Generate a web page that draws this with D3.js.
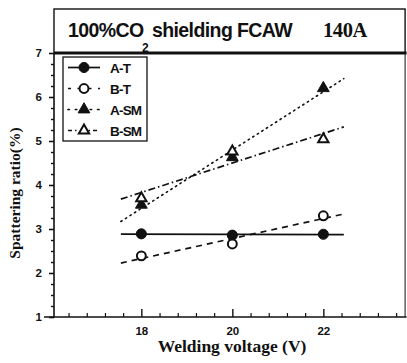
<!DOCTYPE html>
<html>
<head>
<meta charset="utf-8">
<script src="https://cdn.jsdelivr.net/npm/d3@7"></script>
<style>
  html, body { margin: 0; padding: 0; background: #fff; }
  svg { display: block; }
</style>
</head>
<body>
<svg id="chart" width="407" height="363"></svg>
<script>
// Welding voltage (V) on x, spattering ratio (%) on y
const voltages = [18, 20, 22];
const seriesNames = ["A-T", "B-T", "A-SM", "B-SM"];
const valuesAT = [2.89, 2.86, 2.88];
const valuesBT = [2.39, 2.66, 3.30];
const valuesASM = [3.55, 4.63, 6.20];
const valuesBSM = [3.70, 4.76, 5.04];
const xTickValues = [18, 20, 22];
const yTickValues = [1, 2, 3, 4, 5, 6, 7];
const titleMain = "100%CO";
const titleSub = "2";
const titleRest = "shielding FCAW";
const titleCurrent = "140A";

const svg = d3.select("#chart");
const ink = "#111";
const sans = "'Liberation Sans', Arial, sans-serif";
const serif = "'Liberation Serif', 'Times New Roman', serif";

const x = d3.scaleLinear().domain([16.08, 23.83]).range([54, 406.6]);
const y = d3.scaleLinear().domain([1, 7]).range([317, 53]);
const [x0, x1] = x.range();
const [yb, yt] = y.range();

// title box above the plot
svg.append("rect")
  .attr("x", x0).attr("y", 9).attr("width", x1 - x0 - 1.5).attr("height", yt - 9)
  .attr("fill", "none").attr("stroke", ink).attr("stroke-width", 1.4);

svg.append("text")
  .attr("x", 68).attr("y", 37)
  .attr("font-family", sans).attr("font-weight", "bold").attr("font-size", 19.5)
  .attr("letter-spacing", -0.6).attr("fill", ink)
  .text(titleMain);
svg.append("text")
  .attr("x", 142).attr("y", 52)
  .attr("font-family", sans).attr("font-weight", "bold").attr("font-size", 12)
  .attr("fill", ink)
  .text(titleSub);
svg.append("text")
  .attr("x", 152).attr("y", 37)
  .attr("font-family", sans).attr("font-weight", "bold").attr("font-size", 19.5)
  .attr("letter-spacing", -0.6).attr("fill", ink)
  .text(titleRest);

svg.append("text")
  .attr("x", 323).attr("y", 37)
  .attr("font-family", serif).attr("font-weight", "bold").attr("font-size", 20.5)
  .attr("letter-spacing", -0.4)
  .attr("fill", ink).text(titleCurrent);

// plot frame
svg.append("line").attr("x1", x0).attr("x2", x1).attr("y1", yt).attr("y2", yt)
  .attr("stroke", ink).attr("stroke-width", 3);
svg.append("line").attr("x1", x1 - 1.5).attr("x2", x1 - 1.5).attr("y1", yt).attr("y2", yb)
  .attr("stroke", ink).attr("stroke-width", 1);

// axes
const minorY = d3.range(1, 7.001, 0.25).filter(v => Math.abs(v - Math.round(v)) > 1e-6);
const minorX = d3.range(16.4, 23.81, 0.4).filter(v => !xTickValues.some(t => Math.abs(t - v) < 1e-6));

const yAxis = svg.append("g").attr("transform", `translate(${x0},0)`)
  .call(d3.axisLeft(y).tickValues(yTickValues).tickFormat(d3.format("d")).tickSize(5).tickPadding(7));
yAxis.select(".domain").remove();
yAxis.selectAll("line").attr("stroke", ink).attr("stroke-width", 1.6);
yAxis.selectAll("text")
  .attr("font-family", sans).attr("font-weight", "bold").attr("font-size", 11.5).attr("fill", ink);

const yMinor = svg.append("g").attr("transform", `translate(${x0},0)`)
  .call(d3.axisLeft(y).tickValues(minorY).tickFormat("").tickSize(3));
yMinor.select(".domain").remove();
yMinor.selectAll("line").attr("stroke", ink).attr("stroke-width", 1.4);

const xAxis = svg.append("g").attr("transform", `translate(0,${yb})`)
  .call(d3.axisBottom(x).tickValues(xTickValues).tickFormat(d3.format("d")).tickSize(-8).tickPadding(10));
xAxis.select(".domain").remove();
xAxis.selectAll("line").attr("stroke", ink).attr("stroke-width", 1.4);
xAxis.selectAll("text")
  .attr("font-family", sans).attr("font-weight", "bold").attr("font-size", 11.5).attr("fill", ink);

const xMinor = svg.append("g").attr("transform", `translate(0,${yb})`)
  .call(d3.axisBottom(x).tickValues(minorX).tickFormat("").tickSize(-4));
xMinor.select(".domain").remove();
xMinor.selectAll("line").attr("stroke", ink).attr("stroke-width", 1.2);

svg.append("line").attr("x1", x0).attr("x2", x0).attr("y1", yt).attr("y2", yb + 0.7)
  .attr("stroke", ink).attr("stroke-width", 1.6);
svg.append("line").attr("x1", x0 - 10).attr("x2", x1).attr("y1", yb).attr("y2", yb)
  .attr("stroke", ink).attr("stroke-width", 1.6);

// axis titles
svg.append("text")
  .attr("transform", `translate(20,${(yt + yb) / 2 + 8}) rotate(-90)`)
  .attr("text-anchor", "middle")
  .attr("font-family", serif).attr("font-weight", "bold").attr("font-size", 15.5)
  .attr("fill", ink).text("Spattering ratio(%)");

svg.append("text")
  .attr("x", 232).attr("y", 352)
  .attr("text-anchor", "middle")
  .attr("font-family", serif).attr("font-weight", "bold").attr("font-size", 17.5)
  .attr("fill", ink).text("Welding voltage (V)");

// series definitions
const series = [
  { name: seriesNames[0], values: valuesAT, dash: null, sym: d3.symbolCircle, size: 80, filled: true },
  { name: seriesNames[1], values: valuesBT, dash: "6,5", sym: d3.symbolCircle, size: 62, filled: false },
  { name: seriesNames[2], values: valuesASM, dash: "1.4,4", sym: d3.symbolTriangle, size: 60, filled: true },
  { name: seriesNames[3], values: valuesBSM, dash: "7,3,1.5,3", sym: d3.symbolTriangle, size: 46, filled: false }
];

// least-squares fit lines through each series
function fit(values) {
  const mx = d3.mean(voltages), my = d3.mean(values);
  const sxy = d3.sum(voltages, (v, i) => (v - mx) * (values[i] - my));
  const sxx = d3.sum(voltages, v => (v - mx) * (v - mx));
  const b = sxy / sxx;
  return v => my + b * (v - mx);
}
const fitRange = [17.55, 22.45];

const line = d3.line().x(d => x(d[0])).y(d => y(d[1]));
series.forEach(s => {
  const f = fit(s.values);
  svg.append("path")
    .attr("d", line(fitRange.map(v => [v, f(v)])))
    .attr("fill", "none").attr("stroke", ink)
    .attr("stroke-width", s.dash === "1.4,4" ? 1.6 : 1.7)
    .attr("stroke-linecap", s.dash === "1.4,4" ? "round" : "butt")
    .attr("stroke-dasharray", s.dash);
});

series.forEach(s => {
  svg.append("g").selectAll("path")
    .data(s.values.map((v, i) => [voltages[i], v]))
    .join("path")
    .attr("transform", d => `translate(${x(d[0])},${y(d[1])})`)
    .attr("d", d3.symbol(s.sym, s.size))
    .attr("fill", s.filled ? ink : "#fff")
    .attr("stroke", ink)
    .attr("stroke-width", s.filled ? 1 : 2);
});

// legend
const lg = svg.append("g");
lg.append("rect").attr("x", 63).attr("y", 57).attr("width", 84).attr("height", 84)
  .attr("fill", "#fff").attr("stroke", ink).attr("stroke-width", 1.3);
series.forEach((s, i) => {
  const ly = 67.5 + i * 21;
  lg.append("line").attr("x1", 68).attr("x2", 100).attr("y1", ly).attr("y2", ly)
    .attr("stroke", ink).attr("stroke-width", 1.7)
    .attr("stroke-linecap", s.dash === "1.4,4" ? "round" : "butt")
    .attr("stroke-dasharray", s.dash === null ? null : (s.dash === "6,5" ? "3,6.5,14,6.5,3" : s.dash === "1.4,4" ? "1.4,6" : "4,3,1.5,12,1.5,3,4"));
  lg.append("path").attr("transform", `translate(84,${ly})`)
    .attr("d", d3.symbol(s.sym, s.size))
    .attr("fill", s.filled ? ink : "#fff")
    .attr("stroke", ink).attr("stroke-width", s.filled ? 1 : 2);
  lg.append("text").attr("x", 110).attr("y", ly + 5)
    .attr("font-family", sans).attr("font-weight", "bold").attr("font-size", 13.5)
    .attr("letter-spacing", -0.8)
    .attr("fill", ink).text(s.name);
});
</script>
</body>
</html>
